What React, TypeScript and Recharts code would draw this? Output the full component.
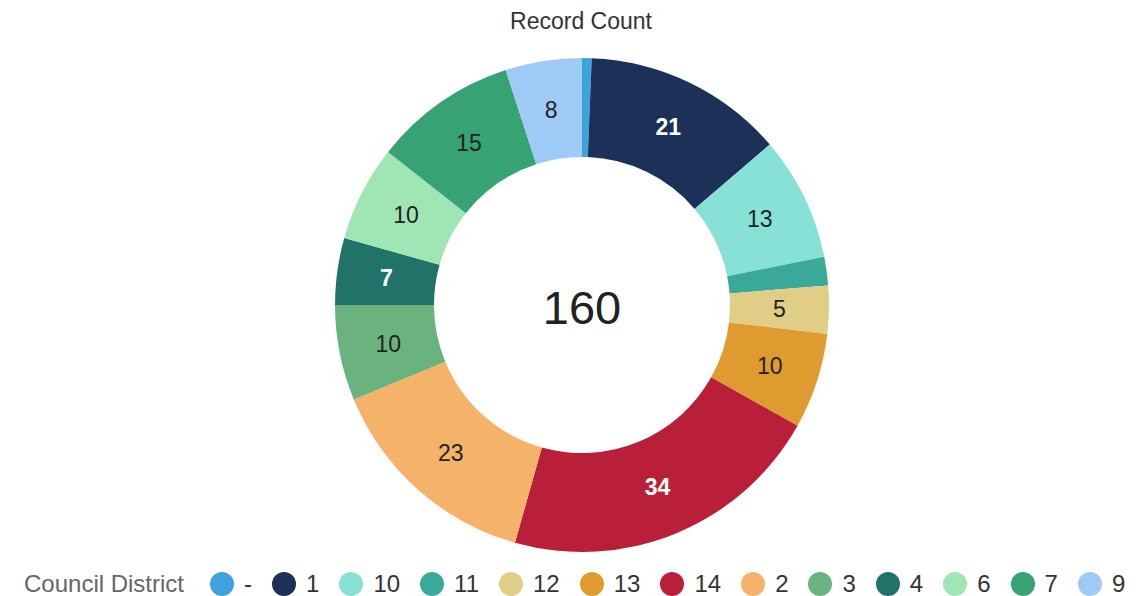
import { PieChart, Pie, Cell, Legend } from 'recharts';

const districts = ['-', '1', '10', '11', '12', '13', '14', '2', '3', '4', '6', '7', '9'];
const recordCounts = [1, 21, 13, 3, 5, 10, 34, 23, 10, 7, 10, 15, 8];

const COLORS = [
  '#3ea3dc', '#1d3057', '#88e1d7', '#3aa99a', '#e0cd86', '#e09b30', '#b91f38',
  '#f5b36a', '#6ab37e', '#21736a', '#9fe6b4', '#37a273', '#9ecbf5',
];
const WHITE_LABEL = ['1', '14', '4'];

const data = districts.map((name, i) => ({ name, value: recordCounts[i] }));
const total = recordCounts.reduce((a, b) => a + b, 0);

const FONT = '"Liberation Sans", Arial, sans-serif';
const RAD = Math.PI / 180;

const renderLabel = (props: any) => {
  const { cx, cy, midAngle, innerRadius, outerRadius, value, name } = props;
  if (value < 4) return null;
  const r = (innerRadius + outerRadius) / 2;
  const x = cx + r * Math.cos(-midAngle * RAD);
  const y = cy + r * Math.sin(-midAngle * RAD);
  const light = WHITE_LABEL.includes(name);
  return (
    <text
      x={x}
      y={y}
      textAnchor="middle"
      dominantBaseline="central"
      fill={light ? '#ffffff' : '#222222'}
      fontWeight={light ? 'bold' : 'normal'}
      fontSize={23}
      fontFamily={FONT}
    >
      {value}
    </text>
  );
};

const renderLegend = () => (
  <div style={{ display: 'flex', alignItems: 'center', fontFamily: FONT, fontSize: 24, height: 26, whiteSpace: 'nowrap' }}>
    <span style={{ color: '#666', marginRight: 26, flexShrink: 0 }}>Council District</span>
    {districts.map((d, i) => (
      <span key={d} style={{ display: 'flex', alignItems: 'center', marginRight: 20, flexShrink: 0 }}>
        <span style={{ width: 24, height: 24, borderRadius: 12, background: COLORS[i], display: 'inline-block', flexShrink: 0 }} />
        <span style={{ marginLeft: 10, color: '#333' }}>{d}</span>
      </span>
    ))}
  </div>
);

export default function App() {
  return (
    <div style={{ position: 'absolute', left: 0, top: 0, width: 1140, height: 596, background: '#fff', overflow: 'hidden' }}>
      <PieChart width={1140} height={596} margin={{ top: 0, right: 0, bottom: 0, left: 0 }}>
        <text x={581} y={21} textAnchor="middle" dominantBaseline="central" fontSize={23} fontFamily={FONT} fill="#333">
          Record Count
        </text>
        <text x={582} y={307} textAnchor="middle" dominantBaseline="central" fontSize={47} fontFamily={FONT} fill="#222">
          {total}
        </text>
        <Pie
          data={data}
          dataKey="value"
          nameKey="name"
          cx={582}
          cy={305}
          innerRadius={148}
          outerRadius={247}
          startAngle={90}
          endAngle={-270}
          stroke="none"
          label={renderLabel}
          labelLine={false}
          isAnimationActive={false}
        >
          {data.map((entry, index) => (
            <Cell key={`cell-${entry.name}`} fill={COLORS[index]} />
          ))}
        </Pie>
        <Legend
          content={renderLegend}
          wrapperStyle={{ position: 'absolute', left: 24, top: 571, width: 1116, height: 26 }}
        />
      </PieChart>
    </div>
  );
}
